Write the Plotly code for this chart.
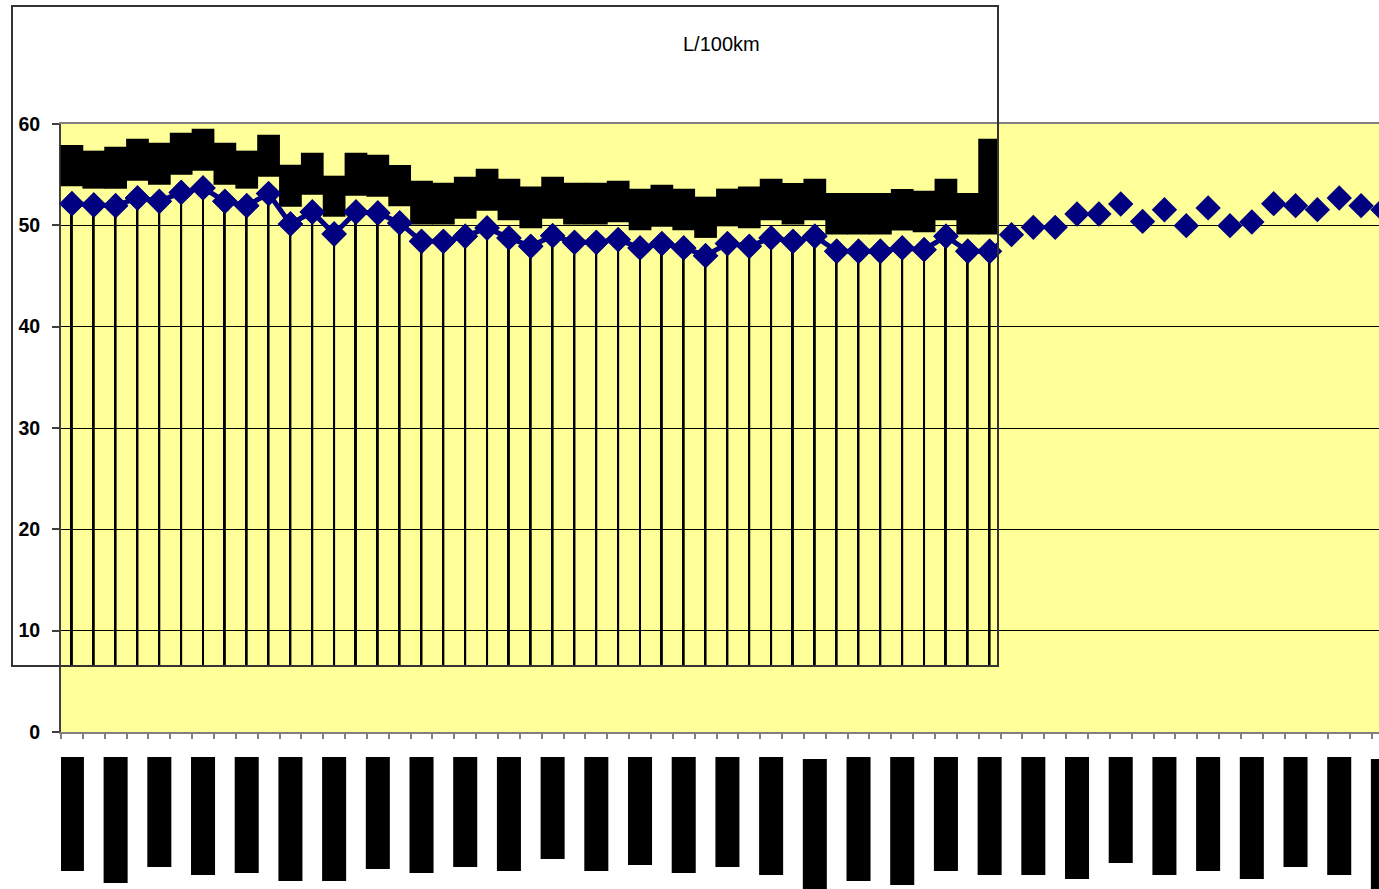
import plotly.graph_objects as go

# ---------------------------------------------------------------- data
# fuel consumption per reading (L/100km)
consumption = [52.14, 52.01, 51.94, 52.70, 52.37, 53.25, 53.69, 52.37, 51.94, 53.13,
               50.14, 51.32, 49.15, 51.32, 51.22, 50.24, 48.42, 48.42, 48.92, 49.74,
               48.76, 47.93, 48.98, 48.32, 48.32, 48.59, 47.77, 48.20, 47.77, 47.01,
               48.20, 47.93, 48.76, 48.42, 48.92, 47.44, 47.44, 47.44, 47.77, 47.60,
               48.92, 47.44, 47.44, 49.08, 49.80, 49.80, 51.12, 51.12, 52.10, 50.39,
               51.54, 49.97, 51.72, 49.97, 50.33, 52.14, 51.94, 51.55, 52.70, 51.94,
               51.55]

# inset chart: low / high of the range bar for the first 43 readings
range_low = [53.85, 53.62, 53.62, 54.41, 54.01, 55.00, 55.39, 54.01, 53.62, 54.80,
             51.84, 53.03, 50.85, 52.93, 52.83, 51.89, 50.07, 50.07, 50.66, 51.45,
             50.49, 49.70, 50.66, 50.07, 50.07, 50.30, 49.51, 49.87, 49.51, 48.76,
             49.90, 49.70, 50.49, 50.07, 50.49, 49.09, 49.09, 49.09, 49.48, 49.31,
             50.49, 49.09, 49.09]
range_high = [57.93, 57.37, 57.76, 58.55, 58.16, 59.14, 59.54, 58.16, 57.37, 58.94,
              55.99, 57.17, 54.90, 57.17, 56.97, 55.96, 54.41, 54.21, 54.80, 55.59,
              54.60, 53.82, 54.80, 54.21, 54.21, 54.41, 53.62, 54.01, 53.62, 52.83,
              53.62, 53.82, 54.60, 54.18, 54.60, 53.20, 53.20, 53.20, 53.59, 53.42,
              54.60, 53.20, 58.55]

# category labels (every second reading), drawn as solid rotated blocks:
# start offset and end offset below the label baseline, in px
label_start = [0, 0, 0, 0, 0, 0, 0, 0, 0, 0, 0, 0, 0, 0, 0, 0,
               0, 2, 0, 0, 0, 0, 0, 0, 0, 0, 0, 0, 0, 0, 2]
label_end = [114, 126, 110, 118, 116, 124, 124, 112, 116, 110, 114, 102, 114, 108, 116, 110,
             118, 132, 124, 128, 114, 118, 118, 122, 106, 118, 114, 122, 110, 118, 138]

y_ticks = [0, 10, 20, 30, 40, 50, 60]

# ---------------------------------------------------------------- geometry
W, H = 1379, 889
PLOT_L, PLOT_T, PLOT_B = 61, 124, 732          # main plot area (right edge = page edge)
STEP = 21.85                                   # px per category
BOX_L, BOX_T, BOX_R, BOX_B = 13, 7, 997, 665   # inset chart frame
LAB_T = 757                                    # top of the category label strip
PPU = (PLOT_B - PLOT_T) / 60.0                 # px per L/100km


def x_range(px_a, px_b):
    return [-0.5 + (px_a - PLOT_L) / STEP, -0.5 + (px_b - PLOT_L) / STEP]


def y_range(px_bottom, px_top):
    return [(PLOT_B - px_bottom) / PPU, (PLOT_B - px_top) / PPU]


def dom_x(a, b):
    return [a / W, b / W]


def dom_y(top, bottom):
    return [(H - bottom) / H, (H - top) / H]


idx = list(range(len(consumption)))
n_inset = len(range_low)
label_x = idx[::2]

NAVY = "#000080"
FONT = "Liberation Sans, Arial, sans-serif"

fig = go.Figure()

# main series: diamonds only
fig.add_trace(go.Scatter(
    x=idx, y=consumption, mode="markers",
    marker=dict(symbol="diamond", size=19.5, color=NAVY),
    xaxis="x", yaxis="y", showlegend=False, hoverinfo="skip"))

# inset: drop lines from each point to the inset's category axis
fig.add_trace(go.Bar(
    x=idx[:n_inset], y=consumption[:n_inset], width=0.09,
    marker=dict(color="black", line=dict(width=0)),
    xaxis="x2", yaxis="y2", showlegend=False, hoverinfo="skip"))

# inset: range bars
fig.add_trace(go.Bar(
    x=idx[:n_inset], base=range_low,
    y=[h - l for h, l in zip(range_high, range_low)], width=1.04,
    marker=dict(color="black", line=dict(width=0)),
    xaxis="x2", yaxis="y2", showlegend=False, hoverinfo="skip"))

# inset: connected line with markers
fig.add_trace(go.Scatter(
    x=idx, y=consumption, mode="lines+markers",
    line=dict(color=NAVY, width=5),
    marker=dict(symbol="diamond", size=19.5, color=NAVY),
    xaxis="x2", yaxis="y2", showlegend=False, hoverinfo="skip"))

# category label blocks
fig.add_trace(go.Bar(
    x=label_x, base=label_start,
    y=[e - s for s, e in zip(label_start, label_end)], width=1.1,
    marker=dict(color="black", line=dict(width=0)),
    xaxis="x3", yaxis="y3", showlegend=False, hoverinfo="skip"))

main_xr = x_range(PLOT_L, W)

fig.update_layout(
    width=W, height=H, autosize=False,
    margin=dict(l=0, r=0, t=0, b=0, pad=0),
    paper_bgcolor="white", plot_bgcolor="rgba(0,0,0,0)",
    barmode="overlay", showlegend=False,
    font=dict(family=FONT, color="black"),
    xaxis=dict(
        domain=dom_x(PLOT_L, W), range=main_xr, anchor="y",
        showgrid=False, zeroline=False,
        showline=True, linecolor="#808080", linewidth=1.5, mirror=True,
        tickmode="array", tickvals=[i - 0.5 for i in range(62)],
        ticktext=[""] * 62, ticks="outside", ticklen=5,
        tickcolor="#808080", tickwidth=1.5, automargin=False),
    yaxis=dict(
        domain=dom_y(PLOT_T, PLOT_B), range=[0, 60], anchor="x",
        tickmode="array", tickvals=y_ticks,
        ticks="outside", ticklen=7, tickcolor="#404040", tickwidth=1.5,
        tickfont=dict(family=FONT, size=19.5, color="black", weight="bold"),
        ticklabelstandoff=8,
        showgrid=True, gridcolor="black", gridwidth=1, zeroline=False,
        showline=True, linecolor="#404040", linewidth=2, automargin=False),
    xaxis2=dict(
        domain=dom_x(BOX_L, BOX_R), range=x_range(BOX_L, BOX_R), anchor="y2",
        showgrid=False, zeroline=False, showticklabels=False, ticks="",
        showline=True, linecolor="#333333", linewidth=1.5, mirror=True,
        automargin=False),
    yaxis2=dict(
        domain=dom_y(BOX_T, BOX_B), range=y_range(BOX_B, BOX_T), anchor="x2",
        showgrid=False, zeroline=False, showticklabels=False, ticks="",
        showline=True, linecolor="#333333", linewidth=1.5, mirror=True,
        automargin=False),
    xaxis3=dict(
        domain=dom_x(PLOT_L, W), range=main_xr, anchor="y3",
        visible=False, automargin=False),
    yaxis3=dict(
        domain=dom_y(LAB_T, H), range=[H - LAB_T, 0], anchor="x3",
        visible=False, automargin=False),
    shapes=[dict(type="rect", xref="x domain", yref="y domain",
                 x0=0, x1=1, y0=0, y1=1, fillcolor="#FFFF99",
                 line=dict(width=0), layer="below")],
    annotations=[dict(text="L/100km", xref="paper", yref="paper",
                      x=721.5 / W, y=(H - 44) / H, xanchor="center", yanchor="middle",
                      showarrow=False, font=dict(family=FONT, size=20, color="black"))],
)

fig.write_html("out.html")
